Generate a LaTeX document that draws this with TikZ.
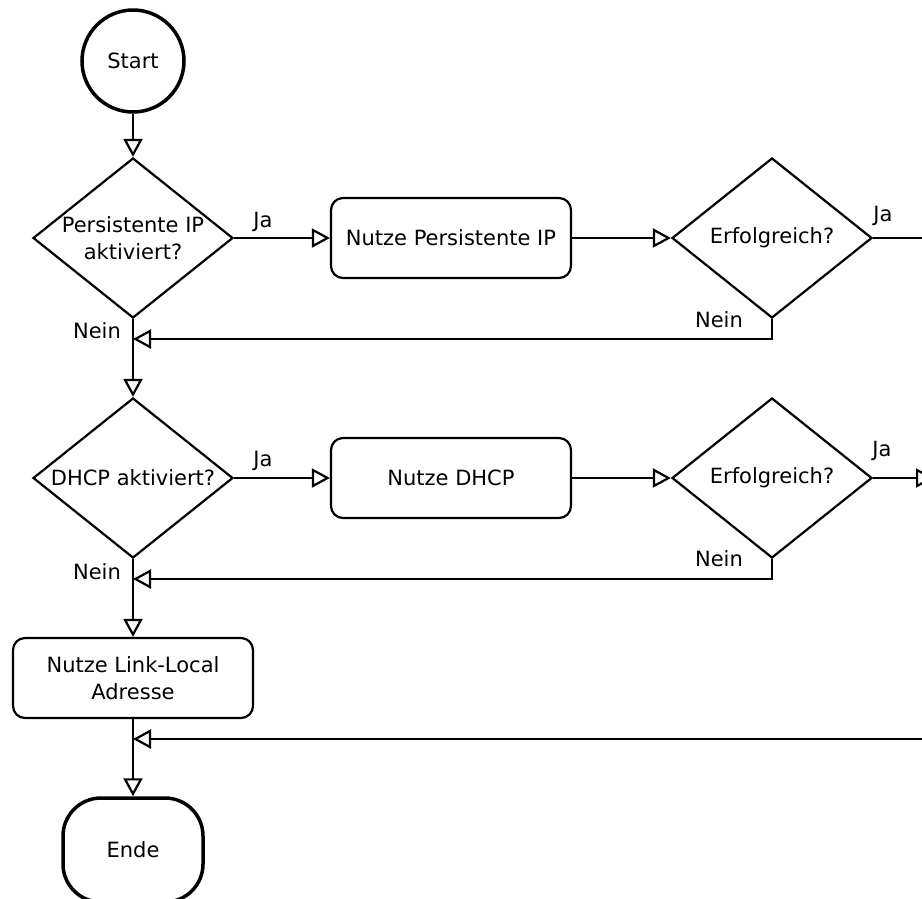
\documentclass[tikz,border=0pt]{standalone}
\usepackage{fontspec}
\setmainfont{DejaVu Sans}
\usetikzlibrary{arrows.meta}
\usetikzlibrary{shapes.geometric}
\usetikzlibrary{positioning}
\tikzset{
  flow/.style={draw,line width=2.2pt,-{Triangle[open,fill=white,length=18pt,width=19pt]}},
  terminal/.style={draw,line width=3.5pt,circle,minimum size=102pt,inner sep=0pt},
  decision/.style={draw,line width=2.2pt,diamond,aspect=1.25,minimum width=200pt,minimum height=160pt,inner sep=-2pt,align=center},
  process/.style={draw,line width=2.2pt,rectangle,rounded corners=12pt,minimum width=240pt,minimum height=80pt,align=center},
  lbl/.style={inner sep=0pt}
}
\begin{document}
\begin{tikzpicture}[x=1pt,y=-1pt,font=\fontsize{21}{27}\selectfont]
\clip (0,0) rectangle (922,898);
% nodes
\node [terminal] (start) at (133,61) {Start};
\node [decision] (q1) at (133,238) {Persistente IP\\aktiviert?};
\node [process] (p1) at (451,238) {Nutze Persistente IP};
\node [decision] (e1) at (772,238) {Erfolgreich?};
\node [decision] (q2) at (133,478) {DHCP aktiviert?};
\node [process] (p2) at (451,478) {Nutze DHCP};
\node [decision] (e2) at (772,478) {Erfolgreich?};
\node [process] (p3) at (133,678) {Nutze Link-Local\\Adresse};
\node [draw,line width=3.5pt,rectangle,rounded corners=38pt,minimum width=140pt,minimum height=104pt] (ende) at (133,850) {Ende};
% points on the lines and beyond the right edge
\coordinate (m1) at (133,339);
\coordinate (m2) at (133,579);
\coordinate (m3) at (133,739);
\coordinate (r1) at (960,238);
\coordinate (r2) at (934,478);
\coordinate (r3) at (980,739);
% connectors
\draw [flow] (start) -- (q1);
\draw [flow] (q1) -- (p1);
\draw [flow] (p1) -- (e1);
\draw [line width=2.2pt] (e1.east) -- (r1);
\draw [flow] (e1.south) |- (m1);
\draw [flow] (q1) -- (q2);
\draw [flow] (q2) -- (p2);
\draw [flow] (p2) -- (e2);
\draw [flow] (e2.east) -- (r2);
\draw [flow] (e2.south) |- (m2);
\draw [flow] (q2) -- (p3);
\draw [flow] (p3) -- (ende);
\draw [flow] (r3) -- (m3);
% labels
\node [lbl] (ja1) at (263,222) {Ja};
\node [lbl] (ja2) at (883,216) {Ja};
\node [lbl] (ja3) at (263,461) {Ja};
\node [lbl] (ja4) at (882,451) {Ja};
\node [lbl] (nein1) at (97,331) {Nein};
\node [lbl] (nein2) at (719,320) {Nein};
\node [lbl] (nein3) at (97,572) {Nein};
\node [lbl] (nein4) at (719,559) {Nein};
\end{tikzpicture}
\end{document}
